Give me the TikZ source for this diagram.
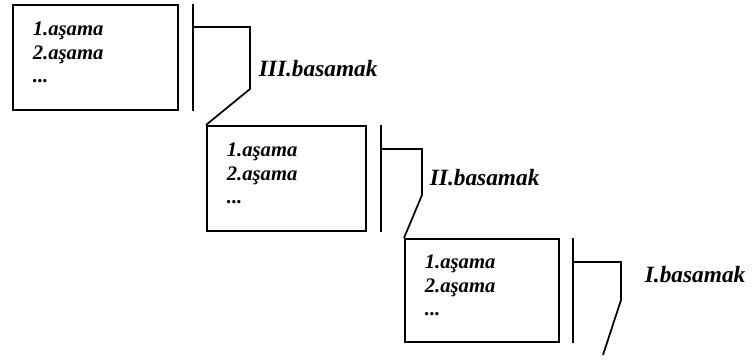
\documentclass[tikz,border=0pt]{standalone}
\usepackage{fontspec}
\setmainfont{Liberation Serif}
\begin{document}
\begin{tikzpicture}[
    x=0.75pt, y=-0.75pt,
    line width=1.3pt,
    stage/.style={draw, anchor=north west, align=left, inner xsep=15pt,
      minimum height=78.75pt, text depth=42.75pt,
      font=\fontsize{15.5}{17.6}\selectfont\bfseries\itshape},
    level/.style={anchor=base west, inner sep=0pt,
      font=\fontsize{17.5}{20}\selectfont\bfseries\itshape},
    ]
    \useasboundingbox (0,0) rectangle (752,360);

    \node[stage, text width=93.75pt] (s3) at (12,4) {1.aşama\\2.aşama\\...};
    \node[stage, text width=89.25pt] (s2) at (206,125) {1.aşama\\2.aşama\\...};
    \node[stage, text width=85.5pt, minimum height=77.25pt] (s1) at (404,238) {1.aşama\\2.aşama\\...};

    % bars and brackets
    \coordinate (t3) at (193,4);
    \coordinate (k3) at (250,27);
    \coordinate (m3) at (250,89);
    \draw (t3) -- (t3 |- s3.south);
    \draw (t3 |- k3) -- (k3) -- (m3) -- (s2.north west);

    \coordinate (t2) at (381,125);
    \coordinate (k2) at (422,149);
    \coordinate (m2) at (422,195);
    \draw (t2) -- (t2 |- s2.south);
    \draw (t2 |- k2) -- (k2) -- (m2) -- (s1.north west);

    \coordinate (t1) at (573,238);
    \coordinate (k1) at (621,262);
    \coordinate (m1) at (621,300);
    \coordinate (e1) at (603,355);
    \draw (t1) -- (t1 |- s1.south);
    \draw (t1 |- k1) -- (k1) -- (m1) -- (e1);

    % level labels
    \node[level] (l3) at (258,76) {III.basamak};
    \node[level] (l2) at (429,185) {II.basamak};
    \node[level] (l1) at (644,282) {I.basamak};

  \end{tikzpicture}
\end{document}
